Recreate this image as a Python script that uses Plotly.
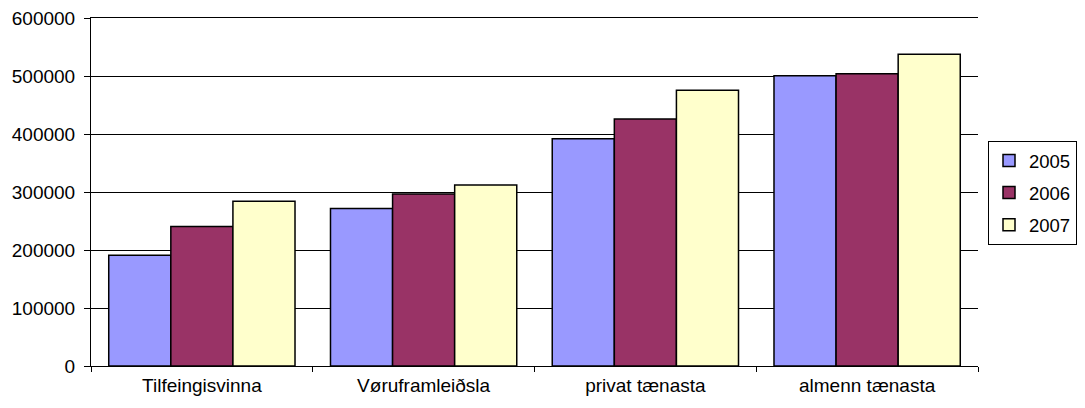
import plotly.graph_objects as go

categories = ["Tilfeingisvinna", "Vøruframleiðsla", "privat tænasta", "almenn tænasta"]
series_names = ["2005", "2006", "2007"]
values_2005 = [191000, 271500, 392000, 500500]
values_2006 = [240500, 296500, 426000, 504000]
values_2007 = [284000, 312000, 475500, 537500]
colors = ["#9999FF", "#993366", "#FFFFCC"]
y_ticks = [0, 100000, 200000, 300000, 400000, 500000, 600000]

OFF = 8  # page body margin
W, H = 1085 - OFF, 408 - OFF

fig = go.Figure()
for i, (name, vals) in enumerate(zip(series_names, [values_2005, values_2006, values_2007])):
    fig.add_trace(go.Bar(
        x=categories, y=vals, name=name, legendgroup=name,
        marker=dict(color=colors[i], line=dict(color="black", width=1.5)),
    ))

fig.update_layout(
    width=W, height=H,
    margin=dict(l=91 - OFF, r=W - (978 - OFF), t=18 - OFF, b=H - (366 - OFF), autoexpand=False),
    barmode="group", bargap=0.16, bargroupgap=0,
    plot_bgcolor="white", paper_bgcolor="white",
    font=dict(family="Liberation Sans, Arial", size=19, color="black"),
    legend=dict(
        xref="container", yref="container",
        x=(988 - OFF) / W, y=1 - (141 - OFF) / H, xanchor="left", yanchor="top",
        bordercolor="black", borderwidth=1, bgcolor="white",
        font=dict(size=18.5), tracegroupgap=5,
    ),
    xaxis=dict(
        showline=True, mirror=True, linecolor="black", linewidth=1,
        ticks="outside", ticklen=5, tickcolor="black", tickson="boundaries",
        showgrid=False, ticklabelstandoff=2,
    ),
    yaxis=dict(
        range=[0, 600000], tickvals=y_ticks, ticktext=[str(v) for v in y_ticks],
        showline=True, linecolor="black", linewidth=1,
        ticks="outside", ticklen=6, tickcolor="black",
        showgrid=True, gridcolor="black", gridwidth=1,
        zeroline=False, ticklabelstandoff=5, ticklabeloverflow="allow",
    ),
)
fig.write_html("out.html")
